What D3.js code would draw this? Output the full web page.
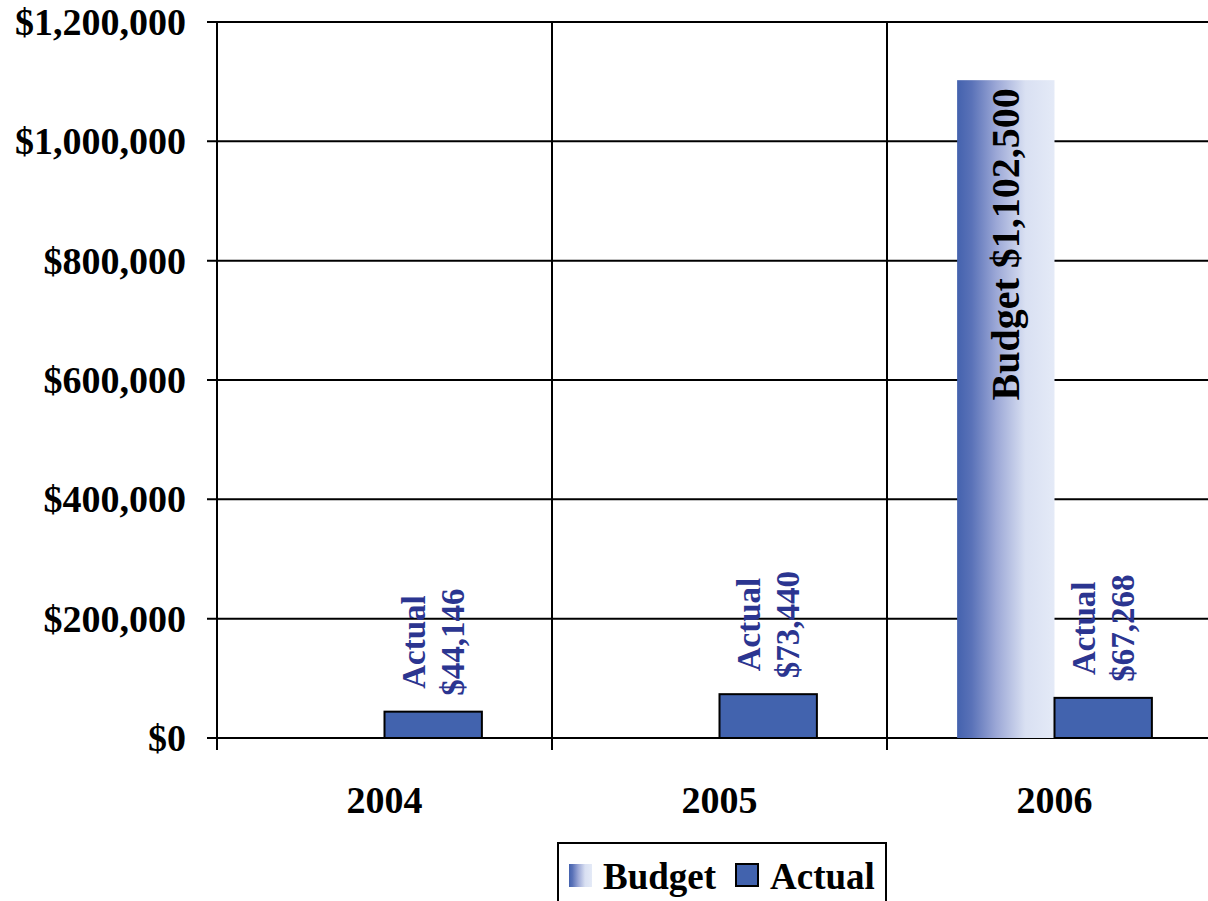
<!DOCTYPE html>
<html>
<head>
<meta charset="utf-8">
<script src="https://cdn.jsdelivr.net/npm/d3@7"></script>
<style>
  html, body { margin: 0; padding: 0; background: #fff; }
  svg { display: block; }
  text { font-family: "Liberation Serif", "Times New Roman", serif; font-weight: bold; }
</style>
</head>
<body>
<svg id="chart" width="1208" height="901"></svg>
<script>
const categories = ["2004", "2005", "2006"];
const seriesNames = ["Budget", "Actual"];
const budgetValues = [null, null, 1102500];
const actualValues = [44146, 73440, 67268];
const yTicks = [0, 200000, 400000, 600000, 800000, 1000000, 1200000];

const svg = d3.select("#chart");
const plotLeft = 217, plotTop = 22, plotBottom = 738;
const catW = 335;
const plotRight = plotLeft + catW * categories.length;

const defs = svg.append("defs");
const grad = defs.append("linearGradient").attr("id", "budgetGrad")
  .attr("x1", "0%").attr("x2", "100%").attr("y1", "0%").attr("y2", "0%");
[[0, "#4462ae"], [0.15, "#5a72b8"], [0.4, "#9ba7d6"], [0.7, "#d9e0f2"], [1, "#e4eaf7"]]
  .forEach(([o, c]) => grad.append("stop").attr("offset", o).attr("stop-color", c));

const x0 = d3.scaleBand().domain(categories).range([plotLeft, plotRight]).paddingInner(0).paddingOuter(0);
const x1 = d3.scaleBand().domain(seriesNames).range([0, x0.bandwidth()]).paddingInner(0).paddingOuter(0.72);
const y = d3.scaleLinear().domain([0, 1200000]).range([plotBottom, plotTop]);

// horizontal gridlines
svg.append("g").selectAll("line").data(yTicks).join("line")
  .attr("x1", plotLeft - 10).attr("x2", plotRight)
  .attr("y1", d => y(d)).attr("y2", d => y(d))
  .attr("stroke", "#000").attr("stroke-width", 2);

// vertical category lines
const bounds = categories.map((c) => x0(c));
bounds.push(plotRight);
svg.append("g").selectAll("line").data(bounds).join("line")
  .attr("x1", d => d).attr("x2", d => d)
  .attr("y1", plotTop).attr("y2", plotBottom + 12)
  .attr("stroke", "#000").attr("stroke-width", 2);

// y tick labels
svg.append("g").selectAll("text").data(yTicks).join("text")
  .attr("x", 186).attr("y", d => y(d))
  .attr("text-anchor", "end").attr("dominant-baseline", "central")
  .attr("font-size", 38).attr("fill", "#000")
  .text(d => "$" + d3.format(",")(d));

// x labels
svg.append("g").selectAll("text").data(categories).join("text")
  .attr("x", d => x0(d) + x0.bandwidth() / 2).attr("y", 800)
  .attr("text-anchor", "middle").attr("dominant-baseline", "central")
  .attr("font-size", 38).attr("fill", "#000")
  .text(d => d);

// budget bars
const budgetData = categories.map((c, i) => ({c, v: budgetValues[i]})).filter(d => d.v != null);
svg.append("g").selectAll("rect").data(budgetData).join("rect")
  .attr("x", d => x0(d.c) + x1("Budget")).attr("width", x1.bandwidth())
  .attr("y", d => y(d.v)).attr("height", d => y(0) - y(d.v))
  .attr("fill", "url(#budgetGrad)");

svg.append("g").selectAll("text").data(budgetData).join("text")
  .attr("transform", d => `translate(${x0(d.c) + x1("Budget") + x1.bandwidth() / 2},${y(d.v)}) rotate(-90)`)
  .attr("x", -8).attr("y", 0)
  .attr("text-anchor", "end").attr("dominant-baseline", "central")
  .attr("font-size", 40).attr("fill", "#000")
  .text(d => "Budget $" + d3.format(",")(d.v));

// actual bars
const actualData = categories.map((c, i) => ({c, v: actualValues[i]}));
svg.append("g").selectAll("rect").data(actualData).join("rect")
  .attr("x", d => x0(d.c) + x1("Actual")).attr("width", x1.bandwidth())
  .attr("y", d => y(d.v)).attr("height", d => y(0) - y(d.v))
  .attr("fill", "#4263ae").attr("stroke", "#000").attr("stroke-width", 2);

// actual labels
const lblG = svg.append("g").selectAll("g").data(actualData).join("g");
lblG.each(function(d) {
  const g = d3.select(this);
  const cx = x0(d.c) + x1("Actual") + x1.bandwidth() / 2;
  const t1 = g.append("text").attr("y", -19.5).text("Actual");
  const t2 = g.append("text").attr("y", 19.5).text("$" + d3.format(",")(d.v));
  g.selectAll("text").attr("x", 0).attr("text-anchor", "middle")
    .attr("dominant-baseline", "central").attr("font-size", 33).attr("fill", "#2b3590");
  const maxLen = Math.max(t1.node().getComputedTextLength(), t2.node().getComputedTextLength());
  const cy = y(d.v) - 16 - maxLen / 2;
  g.attr("transform", `translate(${cx},${cy}) rotate(-90)`);
});

// legend
const lg = svg.append("g");
lg.append("rect").attr("x", 558).attr("y", 843).attr("width", 328).attr("height", 70)
  .attr("fill", "#fff").attr("stroke", "#000").attr("stroke-width", 2);
lg.append("rect").attr("x", 569).attr("y", 864).attr("width", 23).attr("height", 23)
  .attr("fill", "url(#budgetGrad)");
lg.append("text").attr("x", 603).attr("y", 876).attr("dominant-baseline", "central")
  .attr("font-size", 37).attr("fill", "#000").text(seriesNames[0]);
lg.append("rect").attr("x", 736).attr("y", 864).attr("width", 22).attr("height", 22)
  .attr("fill", "#4263ae").attr("stroke", "#000").attr("stroke-width", 2);
lg.append("text").attr("x", 770).attr("y", 876).attr("dominant-baseline", "central")
  .attr("font-size", 37).attr("fill", "#000").text(seriesNames[1]);
</script>
</body>
</html>
